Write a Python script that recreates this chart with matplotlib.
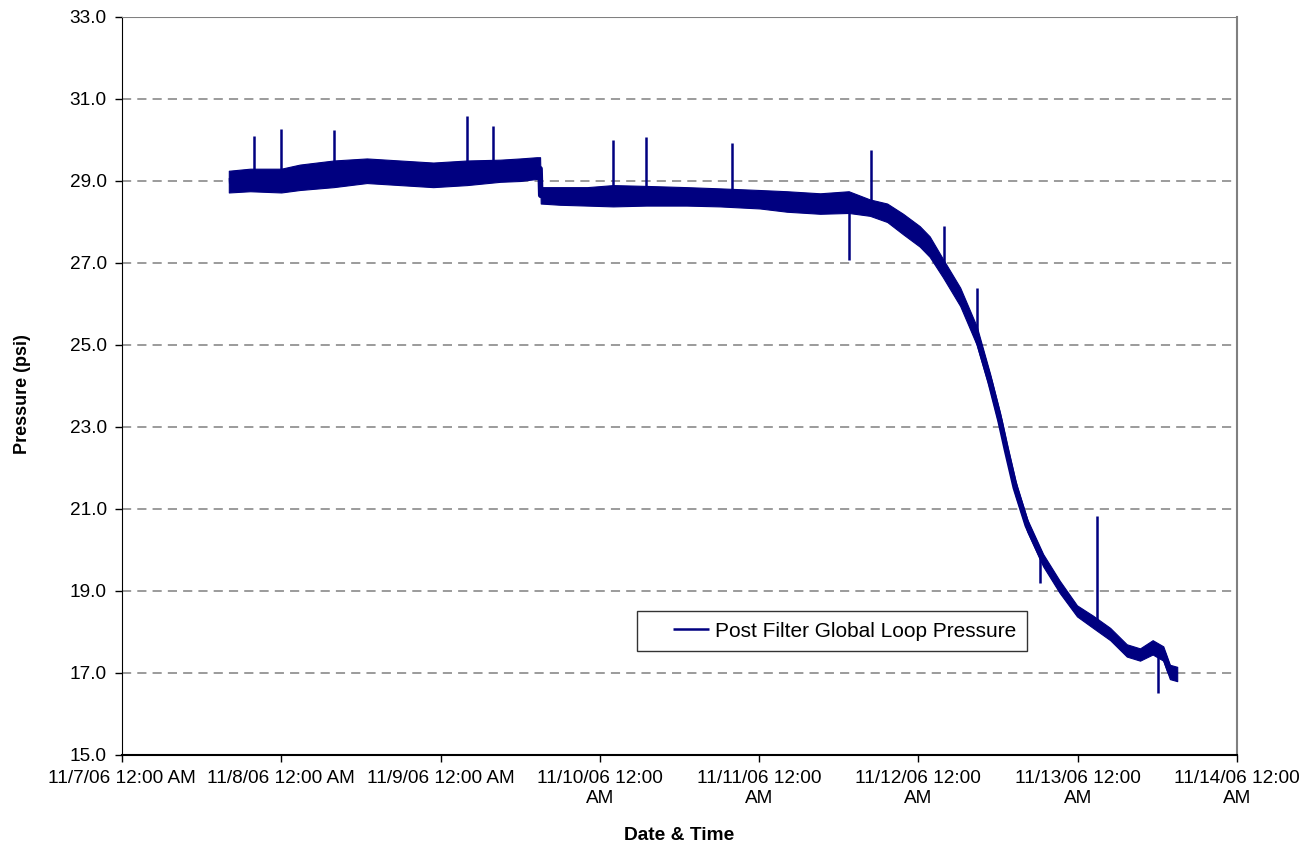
import matplotlib.pyplot as plt
import matplotlib.dates as mdates
import numpy as np
import pandas as pd

plt.rcParams['font.family'] = ['Liberation Sans', 'DejaVu Sans']

start = pd.Timestamp("2006-11-07 00:00")

# hours since 11/7/06 12:00 AM, trend of the logged pressure and its noise band (psi)
hours = [16.1, 19.3, 24.0, 26.8, 31.9, 36.9, 41.9, 46.9, 52.0, 57.0, 60.0, 62.5, 63.0,
         63.1, 66.0, 70.1, 74.0, 79.0, 85.1, 90.1, 96.1, 100.2, 105.2, 109.5, 112.7,
         115.3, 117.7, 120.2, 121.7, 123.7, 126.3, 128.8, 130.8, 132.3, 133.3, 134.6,
         136.4, 138.8, 141.3, 143.9, 146.3, 148.9, 151.4, 153.4, 155.3, 156.9, 157.9, 159.0]
p_mid = [29.00, 29.03, 29.01, 29.09, 29.17, 29.25, 29.20, 29.15, 29.20, 29.25, 29.28, 29.32, 29.30,
         28.65, 28.64, 28.62, 28.64, 28.64, 28.62, 28.60, 28.55, 28.50, 28.45, 28.48, 28.35,
         28.22, 27.95, 27.65, 27.40, 26.88, 26.18, 25.22, 24.10, 23.15, 22.42, 21.52,
         20.60, 19.75, 19.10, 18.51, 18.25, 17.95, 17.55, 17.45, 17.62, 17.48, 17.03, 16.97]
p_low = [28.72, 28.75, 28.72, 28.78, 28.85, 28.95, 28.90, 28.85, 28.90, 28.98, 29.00, 29.05, 29.05,
         28.45, 28.42, 28.40, 28.38, 28.40, 28.40, 28.38, 28.33, 28.25, 28.20, 28.22, 28.15,
         28.00, 27.70, 27.40, 27.15, 26.65, 25.95, 25.00, 23.90, 22.95, 22.25, 21.35,
         20.45, 19.60, 18.95, 18.38, 18.10, 17.80, 17.40, 17.30, 17.45, 17.30, 16.85, 16.80]
p_high = [29.25, 29.30, 29.30, 29.40, 29.50, 29.55, 29.50, 29.45, 29.50, 29.52, 29.55, 29.58, 29.58,
          28.85, 28.85, 28.85, 28.90, 28.88, 28.85, 28.82, 28.78, 28.75, 28.70, 28.75, 28.55,
          28.45, 28.20, 27.90, 27.65, 27.10, 26.40, 25.45, 24.30, 23.35, 22.60, 21.70,
          20.75, 19.90, 19.25, 18.65, 18.40, 18.10, 17.70, 17.60, 17.80, 17.65, 17.20, 17.15]

# single-sample spikes in the log
spike_hours = [19.9, 24.0, 31.9, 52.0, 55.9, 74.0, 79.0, 91.9, 109.5, 112.9, 123.9, 128.8, 138.3, 146.9, 156.1]
spike_vals = [30.10, 30.26, 30.24, 30.59, 30.34, 30.00, 30.07, 29.93, 27.07, 29.76, 27.90, 26.39, 19.20, 20.83, 16.51]

tick_days = pd.date_range("2006-11-07", "2006-11-14", freq="D")
tick_labels = ["11/7/06 12:00 AM", "11/8/06 12:00 AM", "11/9/06 12:00 AM",
               "11/10/06 12:00\nAM", "11/11/06 12:00\nAM", "11/12/06 12:00\nAM",
               "11/13/06 12:00\nAM", "11/14/06 12:00\nAM"]

navy = "#000080"

t = start + pd.to_timedelta(hours, unit="h")
ts = start + pd.to_timedelta(spike_hours, unit="h")

fig = plt.figure(figsize=(13.03, 8.5), dpi=100)
ax = fig.add_axes([0.0936, 0.1118, 0.8557, 0.8682])

ax.fill_between(t, p_low, p_high, color=navy, lw=0.8, zorder=3)
ax.plot(t, p_mid, color=navy, lw=4, zorder=4, solid_joinstyle="round", solid_capstyle="butt",
        label="Post Filter Global Loop Pressure")

# spikes start from the trend line
t_num = mdates.date2num(t)
base = np.interp(mdates.date2num(ts), t_num, p_mid)
ax.vlines(ts, base, spike_vals, color=navy, lw=1.8, zorder=4)

ax.set_xlim(tick_days[0], tick_days[-1])
ax.set_ylim(15, 33)
ax.set_yticks(np.arange(15, 33.1, 2))
ax.yaxis.set_major_formatter(plt.FormatStrFormatter("%.1f"))
ax.set_xticks(tick_days)
ax.set_xticklabels(tick_labels)

ax.grid(axis="y", color="#808080", linestyle=(0, (6, 4)), lw=1.1)
ax.set_axisbelow(True)
ax.axhline(33, color="#808080", lw=1.5, zorder=5)

ax.spines["left"].set_color("black")
ax.spines["bottom"].set_color("black")
ax.spines["bottom"].set_linewidth(1.5)
ax.spines["right"].set_color("#808080")
ax.spines["right"].set_linewidth(1.5)
ax.spines["top"].set_visible(False)

ax.tick_params(axis="both", labelsize=13.7, direction="out", length=5, width=1, color="black")
ax.tick_params(axis="y", pad=6)
ax.tick_params(axis="x", pad=6)

ax.set_ylabel("Pressure (psi)", fontsize=13, fontweight="bold")
ax.yaxis.set_label_coords(-0.082, 0.489)
ax.set_xlabel("Date & Time", fontsize=13.8, fontweight="bold")
ax.xaxis.set_label_coords(0.5, -0.098)
ax.xaxis.label.set_va("top")

leg = ax.legend(loc="center", bbox_to_anchor=(0.6385, 0.2576), bbox_transform=fig.transFigure,
                fontsize=15, frameon=True, fancybox=False, edgecolor="black",
                handlelength=2.95, handletextpad=0.3, borderpad=0.5, borderaxespad=0)
leg.get_frame().set_linewidth(1.0)
# short sample line at the right end of the handle slot, with blank space to its left
handle = leg.get_lines()[0]
handle.set_linewidth(1.8)
hx = handle.get_xdata()
handle.set_xdata([hx[0] + 0.42 * (hx[-1] - hx[0]), hx[-1]])
handle.set_ydata([handle.get_ydata()[0]] * 2)

fig.savefig("out.png", dpi=100)
